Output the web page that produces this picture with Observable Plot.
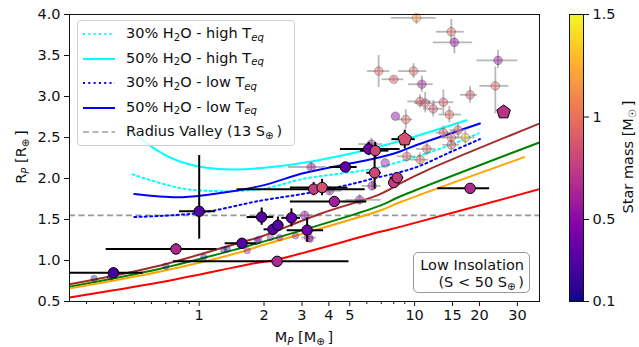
<!DOCTYPE html>
<html><head><meta charset="utf-8">
<script src="https://cdn.jsdelivr.net/npm/d3@7"></script>
<script src="https://cdn.jsdelivr.net/npm/@observablehq/plot@0.6"></script>
<style>
body{margin:0;background:#fff;font-family:"DejaVu Sans",sans-serif;}
#wrap{position:relative;width:639px;height:347px;overflow:hidden;background:#fff;}
.chart{position:absolute;top:0;}
.ov{position:absolute;font-size:14.5px;color:#111;white-space:nowrap;line-height:1;}
sub{font-size:70%;vertical-align:baseline;position:relative;top:0.28em;}
#legend{left:77px;top:20px;width:218px;height:126px;box-sizing:border-box;background:rgba(255,255,255,0.82);border:1px solid #d0d0d0;border-radius:4px;}
.row{position:absolute;left:0;height:18px;width:100%;}
.row svg{position:absolute;left:5px;top:6px;}
.row span{position:absolute;left:48px;top:1px;}
#note{left:413px;top:252px;width:117px;height:41px;box-sizing:border-box;border:1px solid #9a9a9a;border-radius:5px;background:rgba(255,255,255,0.85);text-align:right;padding:4px 5px 0 0;line-height:17px;}
.rot{transform:translate(-50%,-50%) rotate(-90deg);}
</style></head>
<body><div id="wrap"></div>
<script>
// ---------- axis ticks ----------
const xMajorTicks = [1, 2, 3, 4, 5, 10, 15, 20, 30];
const xMinorTicks = [0.3, 0.4, 0.5, 0.6, 0.7, 0.8, 0.9, 6, 7, 8, 9];
const yTicks = [0.5, 1.0, 1.5, 2.0, 2.5, 3.0, 3.5, 4.0];
const starTicks = [0.1, 0.5, 1, 1.5];
const radiusValley = [1.55];

// ---------- water-world model curves ----------
const h2o30HighMass = [0.49, 0.79, 1.08, 1.93, 3.1, 4.51, 6.45, 10, 14, 19.8];
const h2o30HighRadius = [2.05, 1.89, 1.85, 1.87, 2.0, 2.06, 2.12, 2.26, 2.39, 2.55];
const h2o50HighMass = [0.5, 0.64, 0.79, 1.08, 1.5, 3.0, 6.45, 10, 17.4];
const h2o50HighRadius = [2.55, 2.34, 2.22, 2.13, 2.11, 2.19, 2.37, 2.51, 2.71];
const h2o30LowMass = [0.5, 1.0, 1.93, 3.0, 4.5, 6.45, 10, 14.6, 20.1];
const h2o30LowRadius = [1.53, 1.58, 1.73, 1.81, 1.90, 2.0, 2.13, 2.32, 2.48];
const h2o50LowMass = [0.5, 0.79, 1.08, 1.93, 3.0, 4.5, 6.45, 8.56, 10, 14, 20.1];
const h2o50LowRadius = [1.81, 1.77, 1.80, 1.91, 2.06, 2.16, 2.24, 2.33, 2.40, 2.53, 2.67];

// ---------- rocky model curves ----------
const brownMass = [0.25, 0.66, 1.55, 1.93, 3.65, 6.92, 8.56, 11.4, 38];
const brownRadius = [0.71, 0.94, 1.22, 1.29, 1.57, 1.81, 1.94, 2.10, 2.67];
const greenMass = [0.25, 0.66, 1.55, 1.93, 6.92, 8.56, 38];
const greenRadius = [0.68, 0.90, 1.15, 1.22, 1.67, 1.78, 2.44];
const orangeMass = [0.25, 0.66, 1.55, 1.93, 6.92, 8.56, 32.3];
const orangeRadius = [0.66, 0.866, 1.10, 1.18, 1.61, 1.71, 2.26];
const redMass = [0.25, 0.66, 1.93, 2.2, 6.92, 8.56, 38];
const redRadius = [0.55, 0.735, 0.98, 1.0, 1.35, 1.41, 1.87];

// ---------- low-insolation planets (highlighted) ----------
const hlMass   = [0.40, 0.78, 1.0, 1.58, 1.95, 2.2, 2.32, 2.68, 3.17, 2.3, 4.77, 3.4, 3.72, 4.24, 6.52, 8.0, 8.3, 18.1, 6.12, 6.57];
const hlRadius = [0.85, 1.14, 1.6, 1.21, 1.53, 1.38, 1.43, 1.52, 1.37, 0.99, 2.14, 1.87, 1.89, 1.72, 2.07, 1.95, 2.01, 1.88, 2.36, 2.34];
const hlMassLo = [0.20, 0.37, 0.81, 1.32, 1.67, 2.0, 2.17, 2.42, 2.56, 0.76, 4.06, 1.5, 2.65, 2.65, 6.0, 7.6, 7.7, 12.8, 4.53, 5.6];
const hlMassHi = [0.55, 1.21, 1.19, 1.85, 2.22, 2.4, 2.47, 2.95, 3.78, 4.96, 5.41, 5.9, 4.9, 6.0, 7.0, 8.4, 8.9, 22.3, 8.56, 7.6];
const hlRadLo  = [0.82, 1.08, 1.26, 1.17, 1.43, 1.33, 1.35, 1.41, 1.22, 0.97, 2.09, 1.79, 1.79, 1.66, 1.87, 1.89, 1.96, 1.84, 2.28, 2.24];
const hlRadHi  = [0.88, 1.20, 2.28, 1.25, 1.64, 1.43, 1.53, 1.63, 1.52, 1.01, 2.19, 1.95, 1.99, 1.78, 2.30, 2.01, 2.06, 1.92, 2.44, 2.44];
const hlStar   = [0.25, 0.65, 0.3, 0.3, 0.3, 0.3, 0.3, 0.35, 0.4, 0.65, 0.35, 0.75, 0.85, 0.6, 0.8, 0.75, 0.75, 0.65, 0.4, 0.8];

// ---------- pentagon planets ----------
const pgMass = [9.0, 25.9];
const pgRadius = [2.48, 2.81];
const pgMassLo = [7.85, 25.9];
const pgMassHi = [10.07, 25.9];
const pgRadLo = [2.36, 2.81];
const pgRadHi = [2.59, 2.81];
const pgStar = [0.85, 0.7];

// ---------- other planets (faded) ----------
const fdMass   = [10.2, 14.8, 15.3, 24.4, 23.7, 18.1, 6.81, 8.0, 9.89, 10.8, 10.6, 11.2, 12.2, 13.6, 14.5, 8.15, 9.1, 13.6, 14.8, 15.9, 17.2, 11.4, 9.2, 10.6, 14.8, 7.3, 3.31, 4.03, 5.56, 3.09, 6.35, 3.22, 6.3];
const fdRadius = [3.96, 3.79, 3.66, 3.44, 3.13, 3.02, 3.31, 3.21, 3.31, 3.15, 2.94, 2.92, 2.85, 2.93, 2.78, 2.76, 2.72, 2.56, 2.50, 2.59, 2.50, 2.36, 2.27, 2.23, 2.41, 2.19, 2.14, 1.85, 1.74, 1.55, 1.91, 1.28, 2.42];
const fdMassLo = [7.8, 12.6, 12.2, 19.5, 20.1, 16.3, 6.05, 7.07, 8.43, 9.37, 9.3, 10.0, 11.0, 12.2, 13.0, 8.15, 8.4, 12.6, 13.4, 14.6, 15.5, 10.2, 8.3, 9.6, 13.5, 7.3, 2.6, 3.5, 4.8, 2.8, 5.7, 3.0, 5.5];
const fdMassHi = [12.6, 17.0, 18.6, 30.1, 27.4, 19.6, 7.66, 8.91, 11.4, 12.2, 12.0, 12.5, 13.5, 15.2, 16.5, 8.15, 9.8, 14.6, 16.2, 17.2, 19.0, 12.6, 10.1, 11.6, 16.2, 7.3, 3.9, 4.6, 7.0, 3.4, 7.0, 3.5, 7.1];
const fdRadLo  = [3.88, 3.67, 3.52, 3.34, 2.79, 2.92, 3.11, 3.18, 3.22, 3.05, 2.86, 2.80, 2.75, 2.78, 2.68, 2.76, 2.60, 2.48, 2.42, 2.50, 2.42, 2.28, 2.20, 2.15, 2.33, 2.19, 2.08, 1.80, 1.68, 1.50, 1.85, 1.23, 2.35];
const fdRadHi  = [4.05, 3.94, 3.74, 3.56, 3.36, 3.12, 3.50, 3.24, 3.40, 3.25, 3.02, 3.05, 2.95, 3.08, 2.88, 2.76, 2.84, 2.64, 2.58, 2.68, 2.58, 2.44, 2.34, 2.31, 2.49, 2.19, 2.20, 1.90, 1.80, 1.60, 1.97, 1.33, 2.49];
const fdStar   = [1.15, 0.95, 0.55, 0.55, 0.95, 0.85, 0.95, 0.9, 0.95, 0.6, 0.9, 0.85, 0.85, 0.9, 0.95, 0.45, 0.95, 0.9, 0.95, 0.9, 1.3, 0.95, 0.95, 0.95, 0.95, 0.55, 0.55, 0.55, 0.55, 0.55, 0.55, 0.55, 0.55];

// ---------- small rocky planets (faded) ----------
const smMass   = [0.325, 0.387, 0.70, 1.05, 1.30, 1.35, 1.67, 1.86, 1.89, 2.14, 2.36, 2.80, 3.28];
const smRadius = [0.78, 0.80, 0.93, 1.04, 1.13, 1.14, 1.12, 1.24, 1.26, 1.28, 1.28, 1.30, 1.26];
const smStar   = [0.1, 0.1, 0.1, 0.1, 0.1, 0.1, 0.5, 0.1, 0.5, 0.5, 0.5, 0.5, 0.5];

// ---------- legend text ----------
const legendLabels = [
  "30% H<sub>2</sub>O - high T<sub><i>eq</i></sub>",
  "50% H<sub>2</sub>O - high T<sub><i>eq</i></sub>",
  "30% H<sub>2</sub>O - low T<sub><i>eq</i></sub>",
  "50% H<sub>2</sub>O - low T<sub><i>eq</i></sub>",
  "Radius Valley (13 S<sub>⊕</sub>&thinsp;)"
];

// ---------- build tables ----------
const curve = (ms, rs) => ms.map((m, i) => ({m, rad: rs[i]}));
const table = (ms, rs, lo, hi, rlo, rhi, st) => ms.map((m, i) => ({m, rad: rs[i], mlo: lo[i], mhi: hi[i], rlo: rlo[i], rhi: rhi[i], s: st[i]}));
const hl = table(hlMass, hlRadius, hlMassLo, hlMassHi, hlRadLo, hlRadHi, hlStar);
const pg = table(pgMass, pgRadius, pgMassLo, pgMassHi, pgRadLo, pgRadHi, pgStar);
const fd = table(fdMass, fdRadius, fdMassLo, fdMassHi, fdRadLo, fdRadHi, fdStar);
const sm = smMass.map((m, i) => ({m, rad: smRadius[i], s: smStar[i]}));

const pentagon = {
  draw(ctx, size) {
    const R = Math.sqrt(size / 2.3776);
    for (let i = 0; i < 5; i++) {
      const a = -Math.PI / 2 + i * 2 * Math.PI / 5;
      const x = R * Math.cos(a), y = R * Math.sin(a);
      if (i) ctx.lineTo(x, y); else ctx.moveTo(x, y);
    }
    ctx.closePath();
  }
};

const colorScale = {type: "linear", scheme: "plasma", domain: [0.1, 1.5]};
const style = {fontFamily: "DejaVu Sans", fontSize: "14.5px", color: "#111", background: "transparent", overflow: "visible"};
const dotted = "2,3.3";
const lineOpts = (color, dash) => {
  const o = {x: "m", y: "rad", stroke: color, strokeWidth: 2, curve: "catmull-rom", clip: true};
  if (dash) o.strokeDasharray = dash;
  return o;
};

const main = Plot.plot({
  width: 639, height: 347,
  marginLeft: 69, marginRight: 100, marginTop: 14, marginBottom: 46,
  x: {type: "log", domain: [0.25, 38], label: null},
  y: {domain: [0.5, 4.0], label: null},
  color: colorScale,
  style,
  marks: [
    Plot.ruleY(radiusValley, {stroke: "#999", strokeWidth: 1.6, strokeDasharray: "6,3.5"}),
    Plot.line(curve(brownMass, brownRadius), lineOpts("brown")),
    Plot.line(curve(greenMass, greenRadius), lineOpts("green")),
    Plot.line(curve(orangeMass, orangeRadius), lineOpts("orange")),
    Plot.line(curve(redMass, redRadius), lineOpts("red")),
    Plot.line(curve(h2o30HighMass, h2o30HighRadius), lineOpts("cyan", dotted)),
    Plot.line(curve(h2o50HighMass, h2o50HighRadius), lineOpts("cyan")),
    Plot.line(curve(h2o30LowMass, h2o30LowRadius), lineOpts("blue", dotted)),
    Plot.line(curve(h2o50LowMass, h2o50LowRadius), lineOpts("blue")),
    // faded planets
    Plot.ruleY(fd, {x1: "mlo", x2: "mhi", y: "rad", stroke: "#9a9a9a", strokeOpacity: 0.7, strokeWidth: 1.8, clip: true}),
    Plot.ruleX(fd, {y1: "rlo", y2: "rhi", x: "m", stroke: "#9a9a9a", strokeOpacity: 0.7, strokeWidth: 1.8, clip: true}),
    Plot.dot(sm, {x: "m", y: "rad", r: 3.2, fill: "s", fillOpacity: 0.38, stroke: "#000", strokeOpacity: 0.2, strokeWidth: 1}),
    Plot.dot(fd, {x: "m", y: "rad", r: 4.3, fill: "s", fillOpacity: 0.45, stroke: "#000", strokeOpacity: 0.25, strokeWidth: 1}),
    // highlighted planets
    Plot.ruleY(hl, {x1: "mlo", x2: "mhi", y: "rad", stroke: "#000", strokeWidth: 2, clip: true}),
    Plot.ruleX(hl, {y1: "rlo", y2: "rhi", x: "m", stroke: "#000", strokeWidth: 2, clip: true}),
    Plot.ruleY(pg.slice(0, 1), {x1: "mlo", x2: "mhi", y: "rad", stroke: "#000", strokeWidth: 2}),
    Plot.ruleX(pg.slice(0, 1), {y1: "rlo", y2: "rhi", x: "m", stroke: "#000", strokeWidth: 2}),
    Plot.dot(hl, {x: "m", y: "rad", r: 5.2, fill: "s", stroke: "#000", strokeWidth: 1}),
    Plot.dot(pg, {x: "m", y: "rad", r: 6.2, symbol: pentagon, fill: "s", stroke: "#000", strokeWidth: 1}),
    Plot.frame({stroke: "#111", strokeWidth: 1}),
    Plot.axisX({ticks: xMajorTicks, tickFormat: d => String(d), tickSize: 5, tickPadding: 3, label: null}),
    Plot.axisX({ticks: xMinorTicks, tickFormat: () => "", tickSize: 3, label: null}),
    Plot.axisY({ticks: yTicks, tickFormat: d3.format(".1f"), tickSize: 5, tickPadding: 4, label: null})
  ]
});

const starCells = d3.range(0, 140).map(i => 0.1 + i * 0.01);
const cbar = Plot.plot({
  width: 79, height: 347,
  marginLeft: 9, marginRight: 56, marginTop: 14, marginBottom: 46,
  x: {domain: [0, 1], axis: null},
  y: {domain: [0.1, 1.5], label: null},
  color: colorScale,
  style,
  marks: [
    Plot.rect(starCells, {x1: 0, x2: 1, y1: d => d, y2: d => d + 0.0105, fill: d => d + 0.005, inset: 0, shapeRendering: "crispEdges"}),
    Plot.frame({stroke: "#111", strokeWidth: 1}),
    Plot.axisY({anchor: "right", ticks: starTicks, tickFormat: d => String(d), tickSize: 5, tickPadding: 4, label: null})
  ]
});

const wrap = document.getElementById("wrap");
main.classList.add("chart");
cbar.classList.add("chart");
main.style.left = "0px";
cbar.style.left = "560px";
wrap.appendChild(main);
wrap.appendChild(cbar);

// legend
const legendStyles = [["cyan", dotted], ["cyan", null], ["blue", dotted], ["blue", null], ["#a0a0a0", "6,3.5"]];
const lg = document.createElement("div");
lg.id = "legend"; lg.className = "ov";
legendLabels.forEach((lab, i) => {
  const row = document.createElement("div");
  row.className = "row";
  row.style.top = (4 + i * 24.5) + "px";
  const [c, d] = legendStyles[i];
  row.innerHTML = `<svg width="32" height="6"><line x1="0" x2="32" y1="3" y2="3" stroke="${c}" stroke-width="${i === 4 ? 1.6 : 2}" ${d ? `stroke-dasharray="${d}"` : ""}/></svg><span>${lab}</span>`;
  lg.appendChild(row);
});
wrap.appendChild(lg);

const note = document.createElement("div");
note.id = "note"; note.className = "ov";
note.innerHTML = "Low Insolation<br>(S &lt; 50 S<sub>⊕</sub>&thinsp;)";
wrap.appendChild(note);

const xl = document.createElement("div");
xl.className = "ov"; xl.style.left = "304px"; xl.style.top = "337px"; xl.style.transform = "translate(-50%,-50%)";
xl.innerHTML = "M<sub><i>P</i></sub> [M<sub>⊕</sub>&thinsp;]";
wrap.appendChild(xl);

const yl = document.createElement("div");
yl.className = "ov rot"; yl.style.left = "21px"; yl.style.top = "157px";
yl.innerHTML = "R<sub><i>P</i></sub> [R<sub>⊕</sub>&thinsp;]";
wrap.appendChild(yl);

const cl = document.createElement("div");
cl.className = "ov rot"; cl.style.left = "628px"; cl.style.top = "157px";
cl.innerHTML = "Star mass [M<sub>☉</sub>&thinsp;]";
wrap.appendChild(cl);
</script></body></html>
